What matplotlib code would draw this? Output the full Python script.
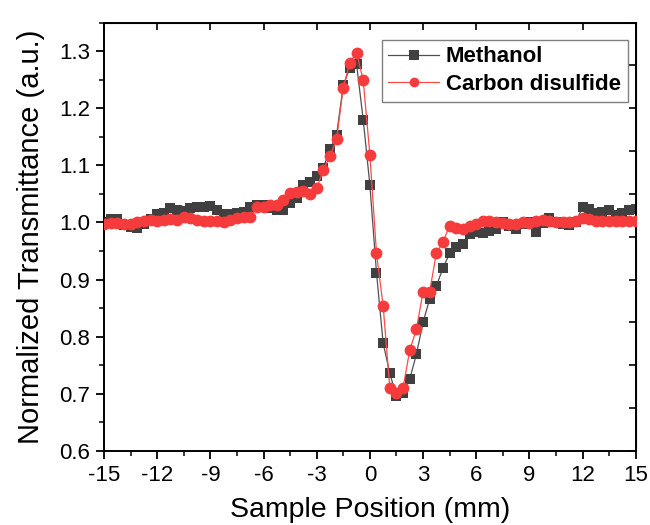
import matplotlib
matplotlib.use('Agg')
import matplotlib.pyplot as plt
from matplotlib.ticker import MultipleLocator, FixedLocator

plt.rcParams['font.family'] = ['Liberation Sans', 'DejaVu Sans']
plt.rcParams['axes.unicode_minus'] = False

# Posiciones de la muestra (mm)
posicion = [-15.0, -14.625, -14.25, -13.875, -13.5, -13.125, -12.75, -12.375,
            -12.0, -11.625, -11.25, -10.875, -10.5, -10.125, -9.75, -9.375,
            -9.0, -8.625, -8.25, -7.875, -7.5, -7.125, -6.75, -6.375,
            -6.0, -5.625, -5.25, -4.875, -4.5, -4.125, -3.75, -3.375,
            -3.0, -2.625, -2.25, -1.875, -1.5, -1.125, -0.75, -0.375,
            0.0, 0.375, 0.75, 1.125, 1.5, 1.875, 2.25, 2.625,
            3.0, 3.375, 3.75, 4.125, 4.5, 4.875, 5.25, 5.625,
            6.0, 6.375, 6.75, 7.125, 7.5, 7.875, 8.25, 8.625,
            9.0, 9.375, 9.75, 10.125, 10.5, 10.875, 11.25, 11.625,
            12.0, 12.375, 12.75, 13.125, 13.5, 13.875, 14.25, 14.625, 15.0]

metanol = [1.001, 1.006, 1.006, 0.996, 0.992, 0.990, 0.997, 1.006,
           1.015, 1.016, 1.025, 1.021, 1.020, 1.025, 1.028, 1.027,
           1.029, 1.021, 1.015, 1.015, 1.016, 1.019, 1.028, 1.031,
           1.030, 1.025, 1.021, 1.022, 1.035, 1.043, 1.065, 1.071,
           1.082, 1.096, 1.128, 1.154, 1.240, 1.271, 1.277, 1.180,
           1.066, 0.912, 0.789, 0.736, 0.696, 0.701, 0.726, 0.769,
           0.825, 0.866, 0.889, 0.920, 0.946, 0.957, 0.962, 0.980,
           0.983, 0.982, 0.985, 0.988, 1.001, 0.993, 0.989, 0.998,
           1.001, 0.984, 0.999, 1.007, 1.001, 0.998, 0.996, 1.001,
           1.027, 1.024, 1.016, 1.019, 1.021, 1.013, 1.017, 1.021, 1.023]

disulfuro = [0.998, 0.999, 0.999, 0.998, 0.997, 1.001, 1.003, 1.004,
             1.003, 1.005, 1.006, 1.005, 1.009, 1.007, 1.005, 1.003,
             1.002, 1.003, 1.001, 1.004, 1.007, 1.009, 1.010, 1.027,
             1.028, 1.030, 1.031, 1.040, 1.051, 1.053, 1.056, 1.050,
             1.060, 1.092, 1.116, 1.146, 1.236, 1.280, 1.297, 1.249,
             1.119, 0.946, 0.854, 0.711, 0.702, 0.711, 0.776, 0.813,
             0.878, 0.879, 0.946, 0.966, 0.994, 0.990, 0.988, 0.993,
             0.997, 1.002, 1.002, 1.001, 0.999, 0.997, 0.998, 1.000,
             0.999, 1.002, 1.005, 1.002, 1.001, 1.001, 1.000, 1.003,
             1.008, 1.006, 1.003, 1.002, 1.003, 1.002, 1.003, 1.002, 1.003]

x_ticks = [-15, -12, -9, -6, -3, 0, 3, 6, 9, 12, 15]

fig = plt.figure(figsize=(6.5, 5.25), dpi=100)
ax = fig.add_axes([0.16, 0.141, 0.818, 0.816])

ax.plot(posicion, metanol, color='#505050', linewidth=0.9, marker='s',
        markersize=7.5, markerfacecolor='#404040', markeredgewidth=0,
        label='Methanol', zorder=2)
ax.plot(posicion, disulfuro, color='#ff4a4a', linewidth=0.9, marker='o',
        markersize=8.5, markerfacecolor='#f53b3b', markeredgewidth=0,
        label='Carbon disulfide', zorder=3)

ax.set_xlim(-15, 15)
ax.set_ylim(0.6, 1.35)
ax.set_xticks(x_ticks)
ax.set_xticklabels([str(t) for t in x_ticks])
ax.xaxis.set_minor_locator(MultipleLocator(1.5))
ax.yaxis.set_major_locator(FixedLocator([0.6, 0.7, 0.8, 0.9, 1.0, 1.1, 1.2, 1.3]))
ax.yaxis.set_minor_locator(MultipleLocator(0.05))

ax.tick_params(axis='both', which='major', direction='out', length=6, width=1.3,
               labelsize=16, pad=4)
ax.tick_params(axis='both', which='minor', direction='out', length=3.5, width=1.1)

for s in ax.spines.values():
    s.set_linewidth(1.4)

# Ejes espejo: arriba y derecha con marcas hacia dentro
top = ax.secondary_xaxis('top')
top.set_xticks(x_ticks)
top.tick_params(direction='in', length=5, width=1.2, labeltop=False)
top.xaxis.set_minor_locator(FixedLocator([]))
right = ax.secondary_yaxis('right')
right.set_yticks([0.6 + 0.075 * i for i in range(11)])
right.tick_params(direction='in', length=5, width=1.2, labelright=False)
right.yaxis.set_minor_locator(FixedLocator([]))

ax.set_xlabel('Sample Position (mm)', fontsize=20.5, labelpad=8)
ax.set_ylabel('Normalized Transmittance (a.u.)', fontsize=21, labelpad=10)

leg = ax.legend(loc='upper left', bbox_to_anchor=(0.522, 0.96), fancybox=False,
                edgecolor='#808080', framealpha=1, handlelength=2.3,
                prop={'weight': 'bold', 'size': 16}, borderpad=0.3,
                labelspacing=0.3, handletextpad=0.3, borderaxespad=0)
leg.get_frame().set_linewidth(1.0)
for h in leg.legend_handles:
    h.set_markersize(7)

fig.savefig('out.png', dpi=100)
